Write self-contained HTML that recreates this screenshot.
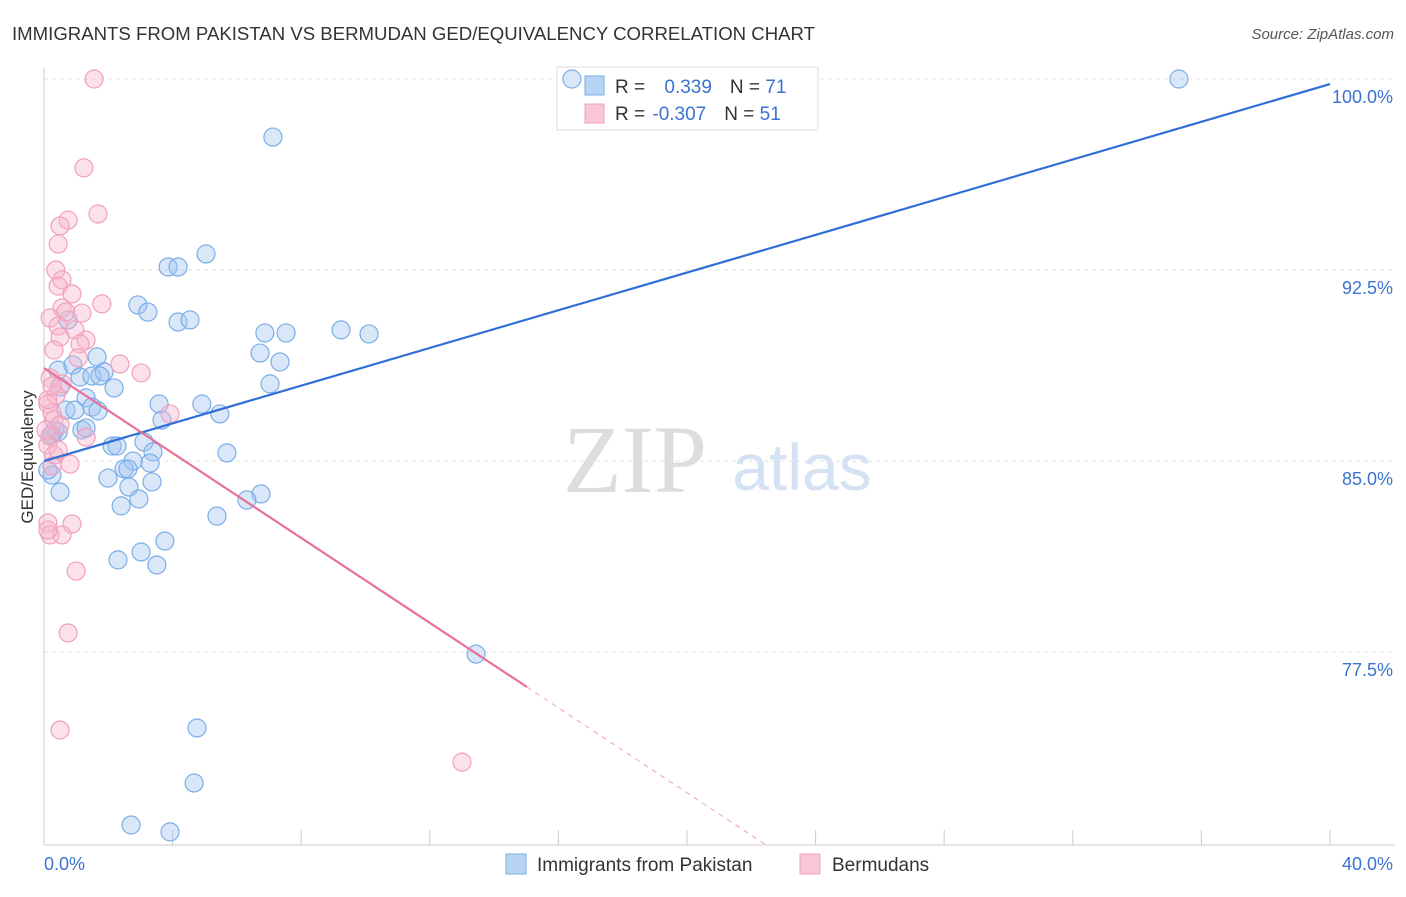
<!DOCTYPE html>
<html><head><meta charset="utf-8"><style>
body{margin:0;background:#fff;font-family:"Liberation Sans",sans-serif}
svg text{font-family:"Liberation Sans",sans-serif}
</style></head><body>
<svg width="1406" height="892" id="c">
<text x="12" y="40" font-size="18" fill="#333" textLength="803" lengthAdjust="spacingAndGlyphs">IMMIGRANTS FROM PAKISTAN VS BERMUDAN GED/EQUIVALENCY CORRELATION CHART</text>
<text x="1394" y="39" font-size="15" fill="#555" text-anchor="end" font-style="italic">Source: ZipAtlas.com</text>
<text x="635" y="492" font-size="96" fill="#ddd" text-anchor="middle" style="font-family:'Liberation Serif',serif">ZIP</text>
<text x="802" y="490" font-size="66" fill="#d4e2f4" text-anchor="middle">atlas</text>
<text x="33" y="457" font-size="17" fill="#333" text-anchor="middle" transform="rotate(-90 33 457)">GED/Equivalency</text>
<g id="grid"></g>
<g>
<rect x="557" y="67" width="261" height="63" fill="#fff" stroke="#ddd"/>
<rect x="585" y="76" width="19" height="19" fill="#b8d4f5" stroke="#7aaee8"/>
<rect x="585" y="104" width="19" height="19" fill="#f9c6d6" stroke="#f0a0bc"/>
<text x="615" y="93" font-size="19" fill="#333">R = <tspan fill="#3b73d0" dx="14">0.339</tspan><tspan dx="18" fill="#333">N = </tspan><tspan fill="#3b73d0">71</tspan></text>
<text x="615" y="120" font-size="19" fill="#333">R = <tspan fill="#3b73d0" dx="2">-0.307</tspan><tspan dx="18" fill="#333">N = </tspan><tspan fill="#3b73d0">51</tspan></text>
</g>
<g id="marks"></g>
<g>
<rect x="506" y="854" width="20" height="20" fill="#b8d4f5" stroke="#7aaee8"/>
<text x="537" y="871" font-size="19" fill="#333">Immigrants from Pakistan</text>
<rect x="800" y="854" width="20" height="20" fill="#f9c6d6" stroke="#f0a0bc"/>
<text x="832" y="871" font-size="19" fill="#333">Bermudans</text>
</g>
</svg>
<script>
const xTicks=[0,40];
const yTicks=[77.5,85.0,92.5,100.0];
const blueX=[16.42,35.30,7.12,5.04,3.86,4.17,2.92,3.23,4.17,4.54,6.87,7.53,9.24,10.11,0.75,6.72,7.34,1.65,0.44,0.90,1.12,1.49,1.87,1.74,2.18,0.50,7.03,1.31,3.58,4.91,5.47,0.68,0.96,1.49,1.68,3.67,0.34,0.25,1.18,1.31,2.12,2.27,3.11,3.39,5.69,2.77,3.30,2.49,2.61,1.99,2.64,3.36,2.95,6.75,6.31,2.40,5.38,0.50,0.25,3.76,3.02,2.30,3.51,13.44,4.76,4.67,2.71,3.92,0.19,0.12,0.44];
const blueY=[100,100,97.72,93.13,92.62,92.62,91.13,90.85,90.46,90.54,90.03,90.03,90.15,89.99,90.54,89.24,88.89,89.09,88.57,88.77,88.30,88.34,88.50,88.34,87.87,87.91,88.03,87.48,87.24,87.24,86.85,87.00,87.00,87.12,86.97,86.61,86.22,86.02,86.22,86.30,85.59,85.59,85.75,85.36,85.32,85.00,84.92,84.69,84.69,84.33,83.98,84.18,83.51,83.71,83.47,83.24,82.84,83.78,84.45,81.86,81.43,81.12,80.92,77.42,74.52,72.36,70.71,70.44,85.98,84.65,86.14];
const pinkX=[1.56,1.24,1.68,0.75,0.50,0.44,0.37,0.56,0.44,0.87,0.56,0.68,1.80,1.18,0.19,0.44,0.96,0.50,1.31,1.12,0.31,1.06,2.36,3.02,0.19,0.56,0.37,0.12,0.25,3.92,0.31,0.50,1.31,0.19,0.12,0.31,0.81,0.25,0.12,0.87,0.19,0.56,1.00,0.75,0.50,13.00,0.12,0.25,0.06,0.44,0.12];
const pinkY=[100,96.51,94.70,94.46,94.23,93.52,92.50,92.11,91.87,91.56,91.01,90.85,91.17,90.81,90.62,90.30,90.15,89.87,89.75,89.60,89.36,89.05,88.81,88.46,88.26,88.03,87.59,87.24,86.89,86.85,86.61,86.42,85.94,85.98,85.63,85.24,84.88,84.81,82.57,82.53,82.10,82.10,80.68,78.25,74.44,73.18,87.40,87.95,86.22,85.43,82.29];
const blueLine=[[0,85.0],[40,99.8]];
const pinkSolid=[[0,88.65],[15.02,76.13]];
const pinkDash=[[15.02,76.13],[22.43,69.95]];
const X=v=>44+v*32.15, Y=v=>79+(100-v)*25.47;
const NS='http://www.w3.org/2000/svg';
const grid=document.getElementById('grid'), marks=document.getElementById('marks');
function mk(tag,attrs,parent){const e=document.createElementNS(NS,tag);for(const k in attrs)e.setAttribute(k,attrs[k]);parent.appendChild(e);return e;}
yTicks.forEach(t=>{
 const l=mk('line',{x1:44,x2:1395,y1:Y(t),y2:Y(t),stroke:'#e2e2e2','stroke-dasharray':'4,4'},grid);
 
 
 const tx=mk('text',{x:1393,y:Y(t)+24,'font-size':18,fill:'#3b73d0','text-anchor':'end'},grid);
 tx.textContent=t.toFixed(1)+'%';
 
 
});
mk('line',{x1:44,x2:44,y1:68,y2:845,stroke:'#ccc'},grid);
mk('line',{x1:44,x2:1395,y1:845,y2:845,stroke:'#ccc'},grid);
for(let i=0;i<=10;i++){mk('line',{x1:X(i*4),x2:X(i*4),y1:830,y2:845,stroke:'#ccc'},grid);}
xTicks.forEach((t,i)=>{
 const tx=mk('text',{x:i?1393:44,y:870,'font-size':18,fill:'#3b73d0','text-anchor':i?'end':'start'},grid);
 tx.textContent=t.toFixed(1)+'%';
 
 
});
blueX.forEach((v,i)=>{
 const c=mk('circle',{cx:X(v),cy:Y(blueY[i]),r:9,fill:'rgba(160,196,240,0.4)',stroke:'#7aaee8','stroke-width':1.2},marks);
 
 
});
pinkX.forEach((v,i)=>{
 const c=mk('circle',{cx:X(v),cy:Y(pinkY[i]),r:9,fill:'rgba(247,180,202,0.4)',stroke:'#f0a0bc','stroke-width':1.2},marks);
 
 
});
function line(p,stroke,w,dash,name){
 const l=mk('line',{x1:X(p[0][0]),y1:Y(p[0][1]),x2:X(p[1][0]),y2:Y(p[1][1]),stroke:stroke,'stroke-width':w},marks);
 if(dash)l.setAttribute('stroke-dasharray',dash);
 
 
}
line(blueLine,'#2f6fd6',2.2,null,'pakistan-trendline');
line(pinkSolid,'#e8719a',2.2,null,'bermudan-trendline');
line(pinkDash,'#f0a0bc',1,'5,5','bermudan-trendline-extension');
</script>
</body></html>
